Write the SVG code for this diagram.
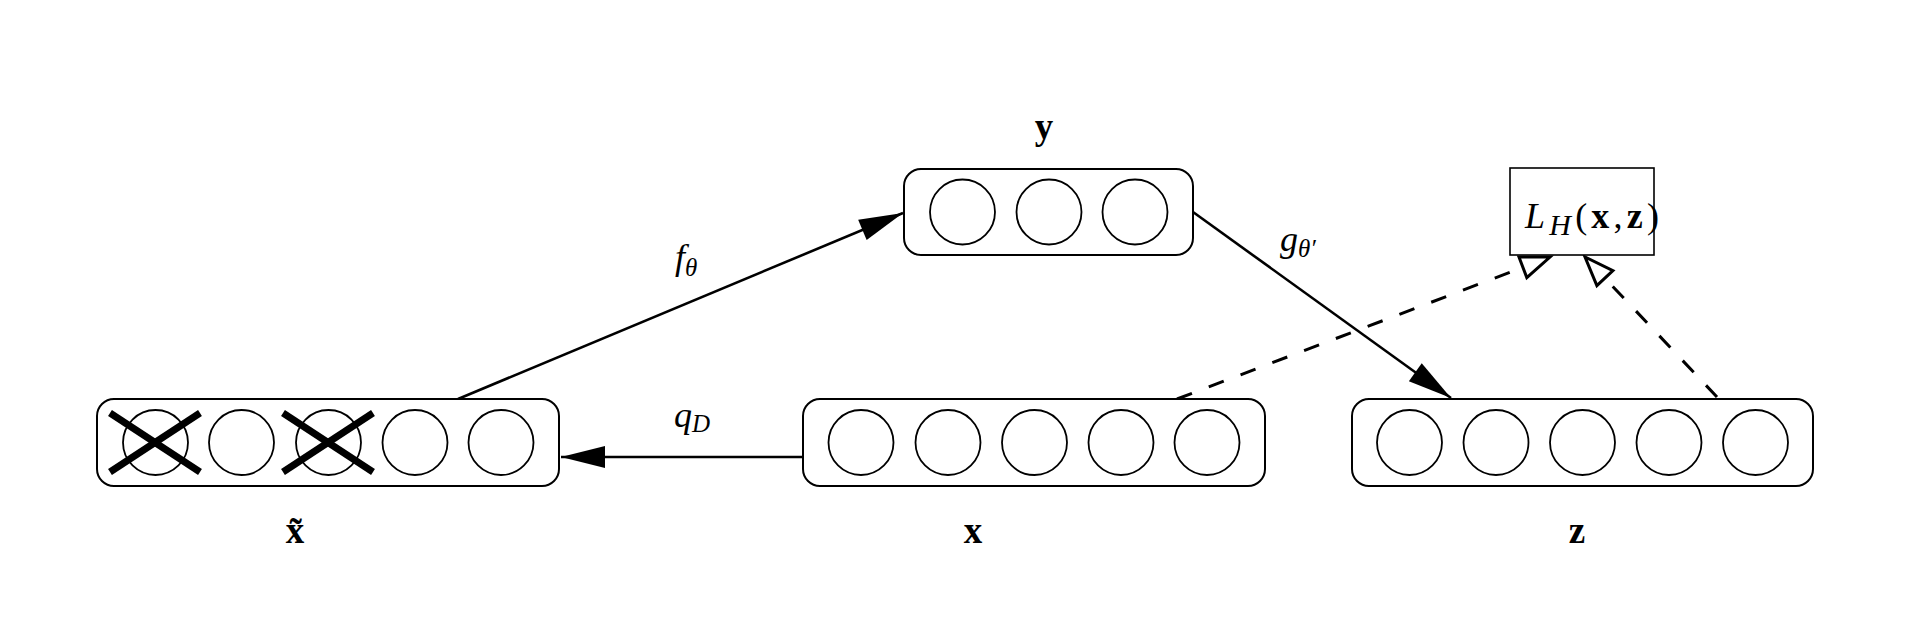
<svg xmlns="http://www.w3.org/2000/svg" width="1916" height="644" viewBox="0 0 1916 644">
<style>
.box{fill:#fff;stroke:#000;stroke-width:2}
.unit{fill:#fff;stroke:#000;stroke-width:1.8}
.cross{stroke:#000;stroke-width:7}
.conn{stroke:#000;stroke-width:2.6;fill:none}
.dash{stroke:#000;stroke-width:3;fill:none;stroke-dasharray:16 18}
.lbl{font-family:"Liberation Serif","DejaVu Serif",serif;font-weight:bold;font-size:37px;text-anchor:middle}
.math{font-family:"Liberation Serif","DejaVu Serif",serif;font-style:italic;font-size:36px}
</style>
<defs>
<marker id="fill" markerUnits="userSpaceOnUse" markerWidth="46" markerHeight="24" refX="44" refY="11" orient="auto" overflow="visible">
<path d="M0,0 L44,11 L0,22 z" fill="#000"/>
</marker>
<marker id="open" markerUnits="userSpaceOnUse" markerWidth="32" markerHeight="26" refX="29" refY="11" orient="auto" overflow="visible">
<path d="M0,0 L29,11 L0,22 z" fill="#fff" stroke="#000" stroke-width="3"/>
</marker>
</defs>
<rect width="1916" height="644" fill="#fff"/>
<g id="connectors">
<line class="conn" x1="458" y1="399" x2="903" y2="213" marker-end="url(#fill)"/>
<line class="conn" x1="803" y1="457" x2="561" y2="457" marker-end="url(#fill)"/>
<line class="conn" x1="1193" y1="212" x2="1451" y2="398" marker-end="url(#fill)"/>
<line class="dash" x1="1177" y1="399" x2="1550" y2="257" marker-end="url(#open)"/>
<line class="dash" x1="1717" y1="397" x2="1585" y2="257" marker-end="url(#open)"/>
</g>
<g id="node-xtilde">
<rect class="box" x="97" y="399" width="462" height="87" rx="17"/>
<circle class="unit" cx="155.5" cy="442.5" r="32.5"/>
<circle class="unit" cx="241.5" cy="442.5" r="32.5"/>
<circle class="unit" cx="328.5" cy="442.5" r="32.5"/>
<circle class="unit" cx="415" cy="442.5" r="32.5"/>
<circle class="unit" cx="501" cy="442.5" r="32.5"/>
<line class="cross" x1="110" y1="413" x2="200" y2="472"/>
<line class="cross" x1="110" y1="472" x2="200" y2="413"/>
<line class="cross" x1="283" y1="413" x2="373" y2="472"/>
<line class="cross" x1="283" y1="472" x2="373" y2="413"/>
<text class="lbl" x="295" y="543">x̃</text>
</g>
<g id="node-x">
<rect class="box" x="803" y="399" width="462" height="87" rx="17"/>
<circle class="unit" cx="861" cy="442.5" r="32.5"/>
<circle class="unit" cx="948" cy="442.5" r="32.5"/>
<circle class="unit" cx="1034.5" cy="442.5" r="32.5"/>
<circle class="unit" cx="1121" cy="442.5" r="32.5"/>
<circle class="unit" cx="1207" cy="442.5" r="32.5"/>
<text class="lbl" x="973" y="543">x</text>
</g>
<g id="node-z">
<rect class="box" x="1352" y="399" width="461" height="87" rx="17"/>
<circle class="unit" cx="1409.5" cy="442.5" r="32.5"/>
<circle class="unit" cx="1496" cy="442.5" r="32.5"/>
<circle class="unit" cx="1582.5" cy="442.5" r="32.5"/>
<circle class="unit" cx="1669" cy="442.5" r="32.5"/>
<circle class="unit" cx="1755.5" cy="442.5" r="32.5"/>
<text class="lbl" x="1577" y="543">z</text>
</g>
<g id="node-y">
<rect class="box" x="904" y="169" width="289" height="86" rx="17"/>
<circle class="unit" cx="962.5" cy="212" r="32.5"/>
<circle class="unit" cx="1049" cy="212" r="32.5"/>
<circle class="unit" cx="1135" cy="212" r="32.5"/>
<text class="lbl" x="1044" y="139">y</text>
</g>
<g id="node-loss">
<rect x="1510" y="168" width="144" height="87" fill="#fff" stroke="#000" stroke-width="1.6"/>
<text class="math" x="1525" y="228" font-size="45" textLength="134" lengthAdjust="spacing">L<tspan font-size="30" dy="7">H</tspan><tspan font-style="normal" dy="-7">(</tspan><tspan font-style="normal" font-weight="bold">x</tspan><tspan font-style="normal">,</tspan><tspan font-style="normal" font-weight="bold">z</tspan><tspan font-style="normal">)</tspan></text>
</g>
<g id="labels">
<text class="math" x="675" y="269">f<tspan font-size="25" dy="7">θ</tspan></text>
<text class="math" x="674" y="427">q<tspan font-size="25" dy="5">D</tspan></text>
<text class="math" x="1280" y="251">g<tspan font-size="25" dy="6">θ′</tspan></text>
</g>
</svg>
